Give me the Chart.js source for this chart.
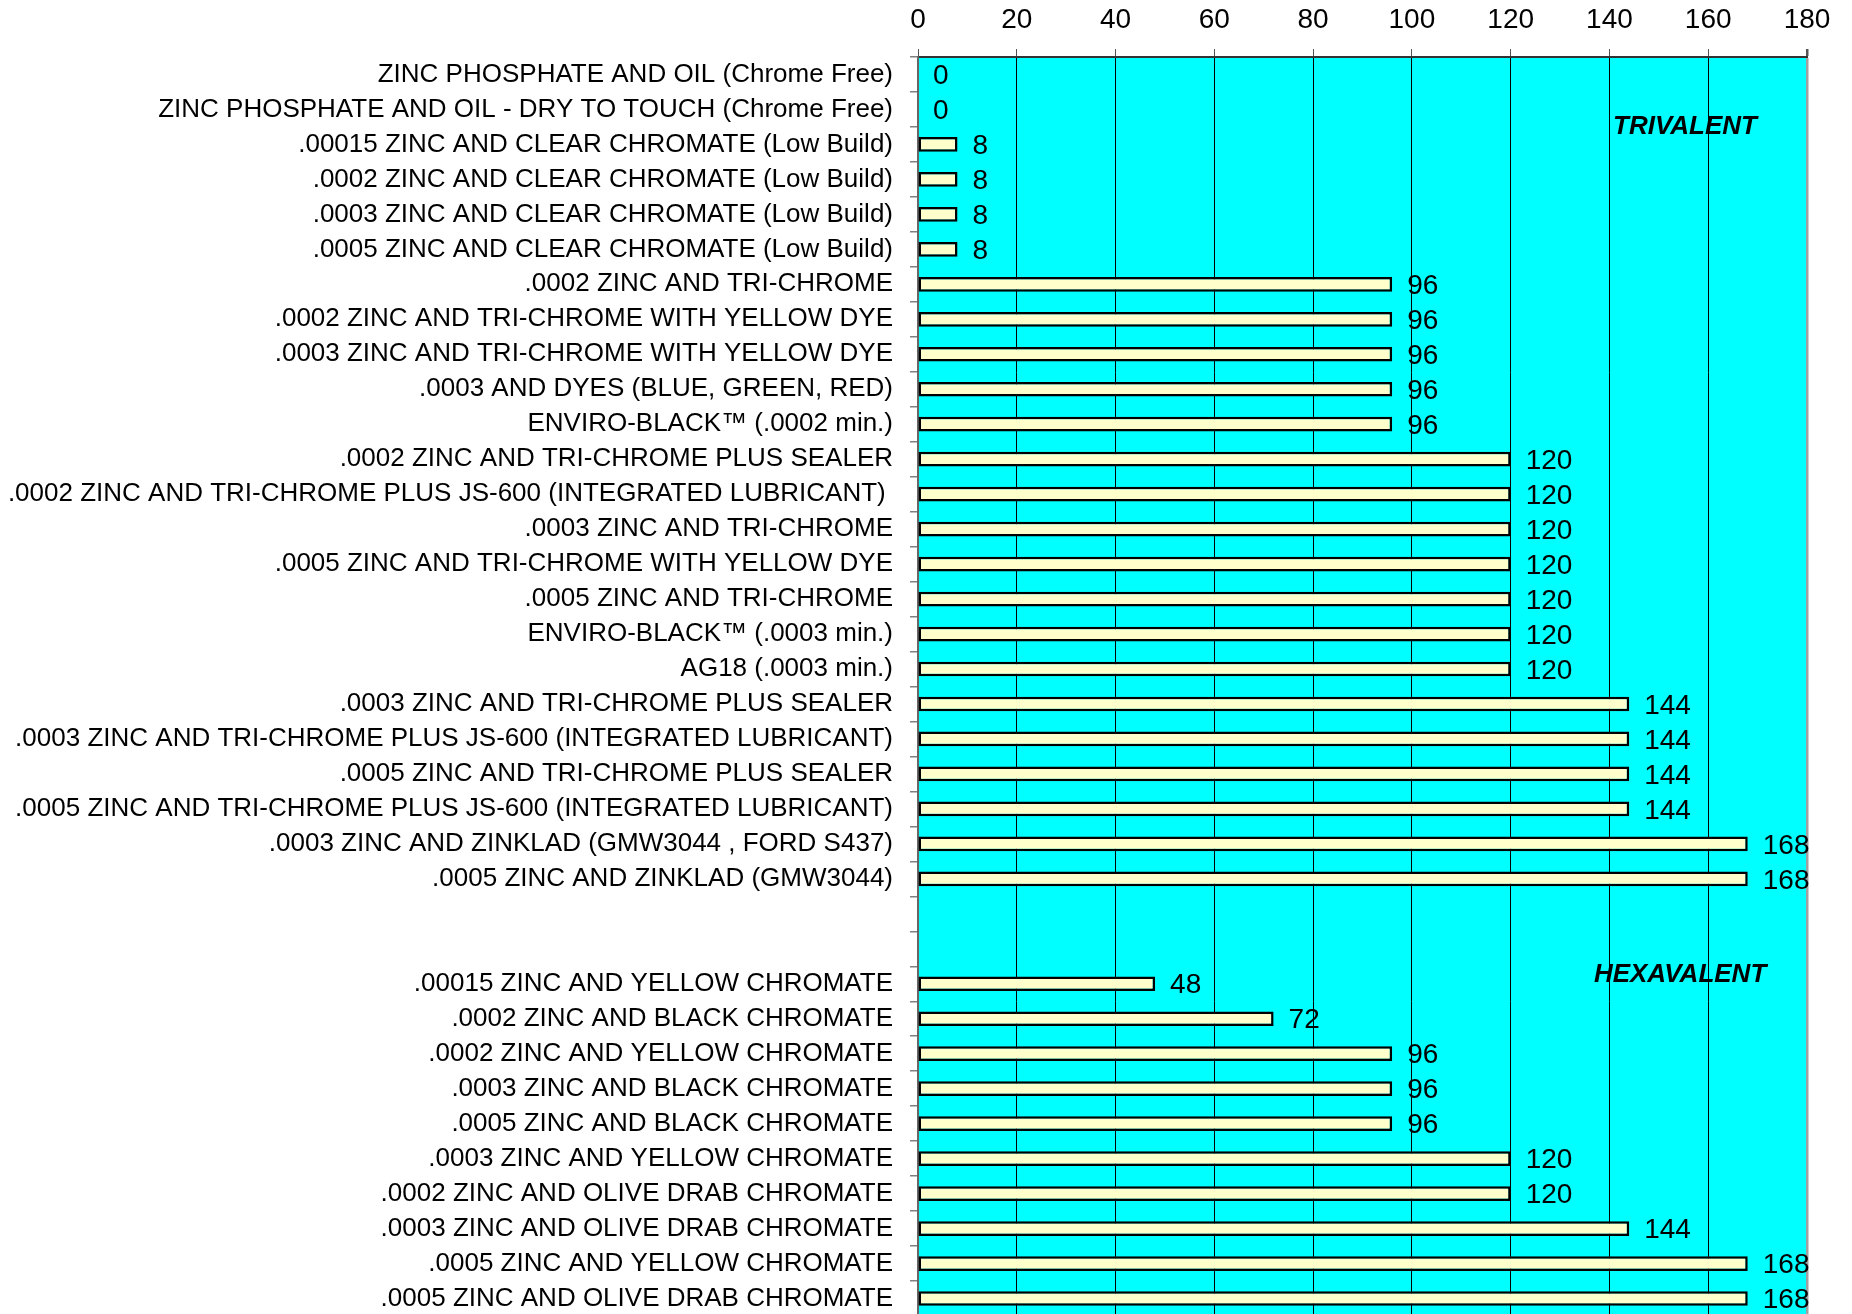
<!DOCTYPE html>
<html>
<head>
<meta charset="utf-8">
<script src="https://cdn.jsdelivr.net/npm/chart.js@4/dist/chart.umd.min.js"></script>
<style>
  html, body { margin: 0; padding: 0; background: #ffffff; overflow: hidden; }
  #wrap { position: relative; width: 1852px; height: 1316px; }
</style>
</head>
<body>
<div id="wrap"><canvas id="c"></canvas></div>
<script>
// ---- data ----
const trivalentLabels = [
  "ZINC PHOSPHATE AND OIL (Chrome Free)",
  "ZINC PHOSPHATE AND OIL - DRY TO TOUCH (Chrome Free)",
  ".00015 ZINC AND CLEAR CHROMATE (Low Build)",
  ".0002 ZINC AND CLEAR CHROMATE (Low Build)",
  ".0003 ZINC AND CLEAR CHROMATE (Low Build)",
  ".0005 ZINC AND CLEAR CHROMATE (Low Build)",
  ".0002 ZINC AND TRI-CHROME",
  ".0002 ZINC AND TRI-CHROME WITH YELLOW DYE",
  ".0003 ZINC AND TRI-CHROME WITH YELLOW DYE",
  ".0003 AND DYES (BLUE, GREEN, RED)",
  "ENVIRO-BLACK\u2122 (.0002 min.)",
  ".0002 ZINC AND TRI-CHROME PLUS SEALER",
  ".0002 ZINC AND TRI-CHROME PLUS JS-600 (INTEGRATED LUBRICANT) ",
  ".0003 ZINC AND TRI-CHROME",
  ".0005 ZINC AND TRI-CHROME WITH YELLOW DYE",
  ".0005 ZINC AND TRI-CHROME",
  "ENVIRO-BLACK\u2122 (.0003 min.)",
  "AG18 (.0003 min.)",
  ".0003 ZINC AND TRI-CHROME PLUS SEALER",
  ".0003 ZINC AND TRI-CHROME PLUS JS-600 (INTEGRATED LUBRICANT)",
  ".0005 ZINC AND TRI-CHROME PLUS SEALER",
  ".0005 ZINC AND TRI-CHROME PLUS JS-600 (INTEGRATED LUBRICANT)",
  ".0003 ZINC AND ZINKLAD (GMW3044 , FORD S437)",
  ".0005 ZINC AND ZINKLAD (GMW3044)"
];
const trivalentHours = [0, 0, 8, 8, 8, 8, 96, 96, 96, 96, 96, 120, 120, 120, 120, 120, 120, 120, 144, 144, 144, 144, 168, 168];

const gapLabels = ["", " "];
const gapHours = [null, null];

const hexavalentLabels = [
  ".00015 ZINC AND YELLOW CHROMATE",
  ".0002 ZINC AND BLACK CHROMATE",
  ".0002 ZINC AND YELLOW CHROMATE",
  ".0003 ZINC AND BLACK CHROMATE",
  ".0005 ZINC AND BLACK CHROMATE",
  ".0003 ZINC AND YELLOW CHROMATE",
  ".0002 ZINC AND OLIVE DRAB CHROMATE",
  ".0003 ZINC AND OLIVE DRAB CHROMATE",
  ".0005 ZINC AND YELLOW CHROMATE",
  ".0005 ZINC AND OLIVE DRAB CHROMATE"
];
const hexavalentHours = [48, 72, 96, 96, 96, 120, 120, 144, 168, 168];

const xTickValues = [0, 20, 40, 60, 80, 100, 120, 140, 160, 180];
const groupNotes = [
  { text: "TRIVALENT", x: 155.3, row: 1.5 },
  { text: "HEXAVALENT", x: 154.3, row: 25.75 }
];

const categories = trivalentLabels.concat(gapLabels, hexavalentLabels);
const hours = trivalentHours.concat(gapHours, hexavalentHours);

const FONT = "'Liberation Sans', Arial, sans-serif";

const bgPlugin = {
  id: 'bg',
  beforeDraw(chart) {
    const { ctx, chartArea: a } = chart;
    ctx.save();
    ctx.fillStyle = '#00FFFF';
    ctx.fillRect(a.left, a.top, a.right - a.left, a.bottom - a.top);
    ctx.restore();
  }
};

const valueLabelPlugin = {
  id: 'valueLabels',
  afterDatasetsDraw(chart) {
    const { ctx } = chart;
    const meta = chart.getDatasetMeta(0);
    ctx.save();
    ctx.font = "28px " + FONT;
    ctx.fillStyle = '#000';
    ctx.textAlign = 'left';
    ctx.textBaseline = 'middle';
    meta.data.forEach((bar, i) => {
      const v = hours[i];
      if (v === null || v === undefined) return;
      ctx.fillText(String(v), bar.x + 15, bar.y + 2);
    });
    ctx.restore();
  }
};

const notePlugin = {
  id: 'notes',
  afterDatasetsDraw(chart) {
    const { ctx, scales } = chart;
    ctx.save();
    ctx.font = "italic bold 26px " + FONT;
    ctx.fillStyle = '#000';
    ctx.textAlign = 'center';
    ctx.textBaseline = 'middle';
    groupNotes.forEach(n => {
      const x = scales.x.getPixelForValue(n.x);
      const y = scales.y.getPixelForValue(n.row);
      ctx.fillText(n.text, x, y);
    });
    ctx.restore();
  }
};

new Chart(document.getElementById('c'), {
  type: 'bar',
  data: {
    labels: categories,
    datasets: [{
      data: hours,
      backgroundColor: '#FFFFCC',
      borderColor: '#000000',
      borderWidth: 2.5,
      borderSkipped: false,
      categoryPercentage: 1.0,
      barPercentage: 0.42
    }]
  },
  options: {
    indexAxis: 'y',
    responsive: true,
    maintainAspectRatio: false,
    devicePixelRatio: 1,
    animation: false,
    layout: { padding: { left: 0, right: 45, top: 3.4, bottom: 0 } },
    plugins: { legend: { display: false }, tooltip: { enabled: false }, title: { display: false } },
    scales: {
      x: {
        position: 'top',
        min: 0,
        max: 180,
        afterBuildTicks(scale) { scale.ticks = xTickValues.map(v => ({ value: v })); },
        afterFit(scale) {
          scale.height = 53.6;
          scale.paddingLeft = 0;
          scale.paddingRight = 0;
        },
        ticks: {
          font: { family: FONT, size: 28 },
          color: '#000',
          padding: 12,
          maxRotation: 0
        },
        grid: {
          color: (c) => (c.tick && c.tick.value === 180) ? '#A0A0A0' : '#000000',
          lineWidth: (c) => (c.tick && c.tick.value === 180) ? 2.5 : 1,
          tickColor: '#555555',
          tickLength: 8,
          drawTicks: true
        },
        border: { display: true, color: '#333333', width: 2 }
      },
      y: {
        position: 'left',
        afterFit(scale) {
          scale.width = 918;
          scale.paddingTop = 0;
          scale.paddingBottom = 0;
        },
        ticks: {
          font: { family: FONT, size: 26 },
          color: '#000',
          padding: 17,
          autoSkip: false
        },
        grid: {
          offset: true,
          drawOnChartArea: false,
          drawTicks: true,
          tickLength: 8,
          tickColor: '#808080',
          lineWidth: 1.5
        },
        border: { display: true, color: '#666666', width: 2 }
      }
    }
  },
  plugins: [bgPlugin, valueLabelPlugin, notePlugin]
});
</script>
</body>
</html>
